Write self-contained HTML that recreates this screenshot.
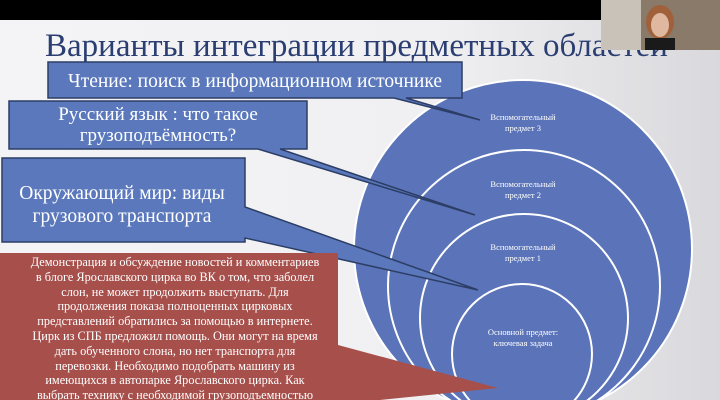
<!DOCTYPE html>
<html><head><meta charset="utf-8"><style>
html,body{margin:0;padding:0;width:720px;height:400px;overflow:hidden;background:#000}
svg{display:block}
text{font-family:"Liberation Serif","DejaVu Serif",serif}
</style></head><body>
<svg width="720" height="400" viewBox="0 0 720 400" xmlns="http://www.w3.org/2000/svg">
<defs>
<linearGradient id="bg" x1="0" y1="0" x2="1" y2="0">
<stop offset="0" stop-color="#f4f4f6"/><stop offset="0.6" stop-color="#f0f0f2"/><stop offset="1" stop-color="#d9d9dd"/>
</linearGradient>
<clipPath id="c"><rect x="0" y="0" width="720" height="400"/></clipPath>
</defs>
<g clip-path="url(#c)">
<rect x="0" y="0" width="720" height="20" fill="#000"/>
<rect x="0" y="20" width="720" height="380" fill="url(#bg)"/>
<text x="45" y="56" font-size="33" fill="#2b3e72">Варианты интеграции предметных областей</text>
<rect x="601" y="0" width="119" height="50" fill="#8a7a6a"/>
<rect x="601" y="0" width="40" height="50" fill="#c9c2b8"/>
<ellipse cx="660" cy="22" rx="14" ry="17" fill="#a0603a"/>
<ellipse cx="660" cy="25" rx="9" ry="12" fill="#e0b8a0"/>
<rect x="645" y="38" width="30" height="12" fill="#1a1a1a"/>
<g fill="#5b74b9" stroke="#fff" stroke-width="2">
<circle cx="523" cy="249" r="169"/>
<circle cx="524" cy="286" r="136"/>
<circle cx="524" cy="318" r="104"/>
<circle cx="522" cy="354" r="70"/>
</g>
<g fill="#fff" font-size="8.5" text-anchor="middle">
<text x="523" y="120">Вспомогательный</text><text x="523" y="131">предмет 3</text>
<text x="523" y="187">Вспомогательный</text><text x="523" y="198">предмет 2</text>
<text x="523" y="250">Вспомогательный</text><text x="523" y="261">предмет 1</text>
<text x="523" y="335">Основной предмет:</text><text x="523" y="346">ключевая задача</text>
</g>
<g fill="#5a78bb" stroke="#2c3e66" stroke-width="1.5">
<path d="M48 62 H462 V98 H406 L480 120 L394 98 H48 Z"/>
<path d="M9 101 H307 V149 H280 L475 215 L258 149 H9 Z"/>
<path d="M2 158 H245 V207 L478 290 L245 238 V242 H2 Z"/>
</g>
<g font-size="19.5" fill="#fff" text-anchor="middle">
<text x="255" y="87">Чтение: поиск в информационном источнике</text>
<text x="158" y="120" font-size="19">Русский язык : что такое</text>
<text x="158" y="141" font-size="19">грузоподъёмность?</text>
<text x="122" y="199">Окружающий мир: виды</text>
<text x="122" y="222">грузового транспорта</text>
</g>
<path d="M0 253 H338 V345 L498 388 L380 400 H0 Z" fill="#a64f4b"/>
<g font-size="12.3" fill="#fff" text-anchor="middle">
<text x="175" y="266">Демонстрация и обсуждение новостей и комментариев</text>
<text x="175" y="281">в блоге Ярославского цирка во ВК о том, что заболел</text>
<text x="175" y="296">слон, не может продолжить выступать.  Для</text>
<text x="175" y="310">продолжения показа полноценных цирковых</text>
<text x="175" y="325">представлений обратились за помощью в интернете.</text>
<text x="175" y="340">Цирк из СПБ предложил помощь. Они могут на время</text>
<text x="175" y="355">дать обученного слона, но нет транспорта для</text>
<text x="175" y="370">перевозки. Необходимо подобрать машину из</text>
<text x="175" y="384">имеющихся в автопарке Ярославского цирка. Как</text>
<text x="175" y="399">выбрать технику с необходимой грузоподъемностью</text>
</g>
</g>
</svg>
</body></html>
